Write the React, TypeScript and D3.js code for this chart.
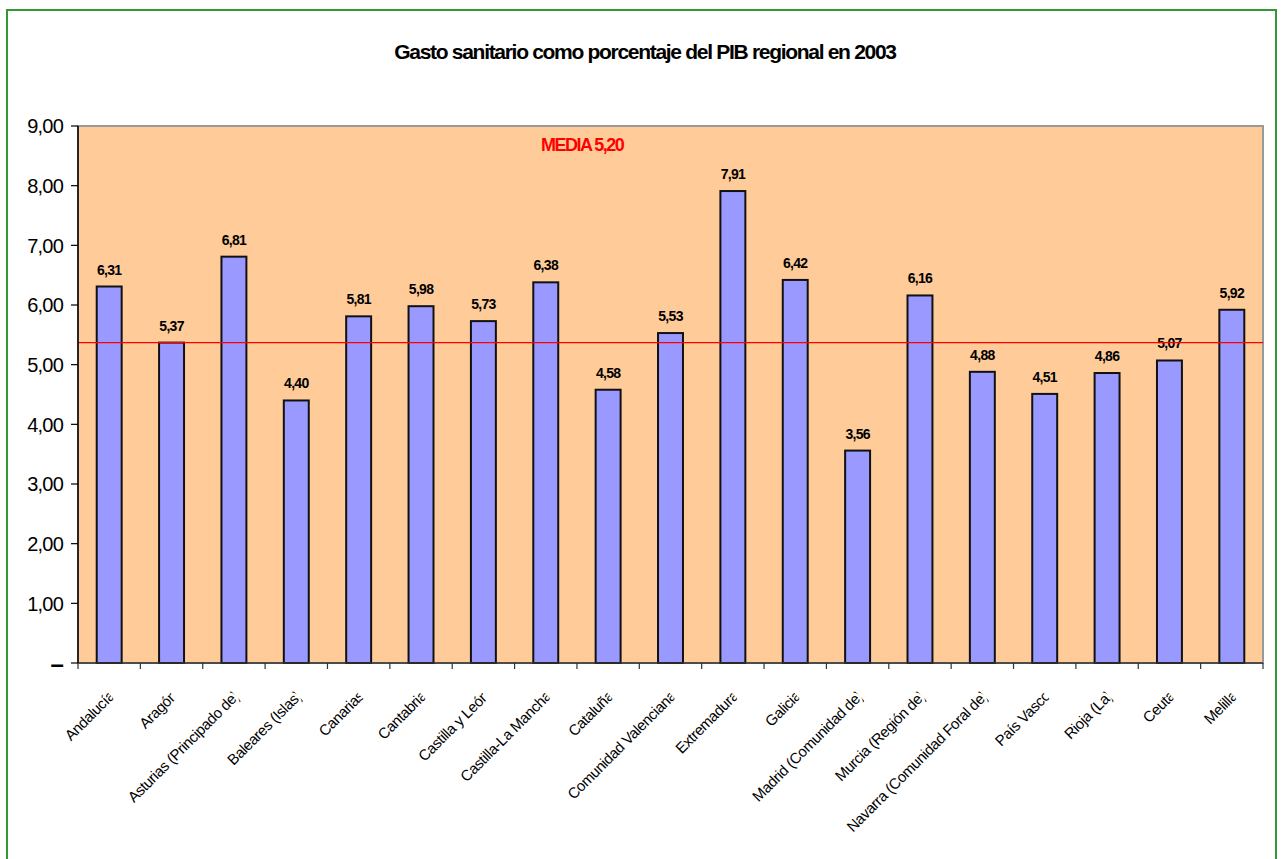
import React from "react";
import * as d3 from "d3";

const categories = [
  "Andalucía", "Aragón", "Asturias (Principado de)", "Baleares (Islas)", "Canarias",
  "Cantabria", "Castilla y León", "Castilla-La Mancha", "Cataluña", "Comunidad Valenciana",
  "Extremadura", "Galicia", "Madrid (Comunidad de)", "Murcia (Región de)",
  "Navarra (Comunidad Foral de)", "País Vasco", "Rioja (La)", "Ceuta", "Melilla",
];
const values = [6.31, 5.37, 6.81, 4.40, 5.81, 5.98, 5.73, 6.38, 4.58, 5.53, 7.91, 6.42, 3.56, 6.16, 4.88, 4.51, 4.86, 5.07, 5.92];
const yTicks = [0, 1, 2, 3, 4, 5, 6, 7, 8, 9];
const mediaLineValue = 5.37;
const mediaLabel = "MEDIA 5,20";
const title = "Gasto sanitario como porcentaje del PIB regional en 2003";

const W = 1282;
const H = 859;
const plot = { left: 78, right: 1263, top: 126, bottom: 663 };
const fmt = (v: number) => v.toFixed(2).replace(".", ",");
const font = "Arial, 'Liberation Sans', sans-serif";

export default function App() {
  const x = d3.scaleBand<string>().domain(categories).range([plot.left, plot.right]).padding(0);
  const y = d3.scaleLinear().domain([0, 9]).range([plot.bottom, plot.top]);
  const step = x.step();
  const barW = step * 0.4;

  return (
    <svg width={W} height={H} style={{ position: "absolute", left: 0, top: 0, fontFamily: font }}>
      <defs>
        <clipPath id="lblclip" clipPathUnits="userSpaceOnUse">
          <rect x={-1000} y={-40} width={1000} height={80} />
        </clipPath>
      </defs>
      <rect x={0} y={0} width={W} height={H} fill="#fff" />
      <rect x={7} y={10} width={1269} height={870} fill="#fff" stroke="#339933" strokeWidth={2} />

      <text x={645} y={59} textAnchor="middle" fontSize={21} fontWeight="bold" letterSpacing={-1.3} fill="#000">
        {title}
      </text>

      {/* plot area */}
      <rect x={plot.left} y={plot.top} width={plot.right - plot.left} height={plot.bottom - plot.top} fill="#FFCC99" stroke="#999" strokeWidth={2} />

      {/* bars */}
      {categories.map((c, i) => {
        const cx = (x(c) as number) + step / 2;
        const v = values[i];
        return (
          <g key={c}>
            <rect x={cx - barW / 2} y={y(v)} width={barW} height={plot.bottom - y(v)} fill="#9999FF" stroke="#111" strokeWidth={2} />
            <text x={cx} y={y(v) - 12} textAnchor="middle" fontSize={14} fontWeight="bold" letterSpacing={-0.7} fill="#000">
              {fmt(v)}
            </text>
          </g>
        );
      })}

      {/* media line */}
      <line x1={plot.left} x2={plot.right} y1={y(mediaLineValue)} y2={y(mediaLineValue)} stroke="#FF0000" strokeWidth={1.3} />
      <text x={541} y={151} fontSize={18} fontWeight="bold" fill="#FF0000" letterSpacing={-1.5}>
        {mediaLabel}
      </text>

      {/* y axis */}
      <line x1={plot.left} x2={plot.left} y1={plot.top} y2={plot.bottom} stroke="#000" strokeWidth={1.5} />
      {yTicks.map((t) => (
        <g key={t}>
          <line x1={plot.left - 7} x2={plot.left} y1={y(t)} y2={y(t)} stroke="#000" strokeWidth={1.2} />
          <text x={63} y={y(t)} dy="0.36em" textAnchor="end" fontSize={t === 0 ? 24 : 20} fontWeight={t === 0 ? "bold" : "normal"} letterSpacing={-0.8} fill="#000">
            {t === 0 ? "–" : fmt(t)}
          </text>
        </g>
      ))}

      {/* x axis */}
      <line x1={plot.left} x2={plot.right} y1={plot.bottom} y2={plot.bottom} stroke="#333" strokeWidth={1.5} />
      {d3.range(categories.length + 1).map((i) => {
        const tx = plot.left + i * step;
        return <line key={i} x1={tx} x2={tx} y1={plot.bottom} y2={plot.bottom + 6} stroke="#333" strokeWidth={1.2} />;
      })}
      {categories.map((c) => {
        const cx = (x(c) as number) + step / 2;
        return (
          <g key={c} transform={`translate(${cx + 1},${695}) rotate(-45)`} clipPath="url(#lblclip)">
            <text x={2.5} y={0} dy="0.35em" textAnchor="end" fontSize={15} letterSpacing={-0.4} fill="#000">
              {c}
            </text>
          </g>
        );
      })}
    </svg>
  );
}
